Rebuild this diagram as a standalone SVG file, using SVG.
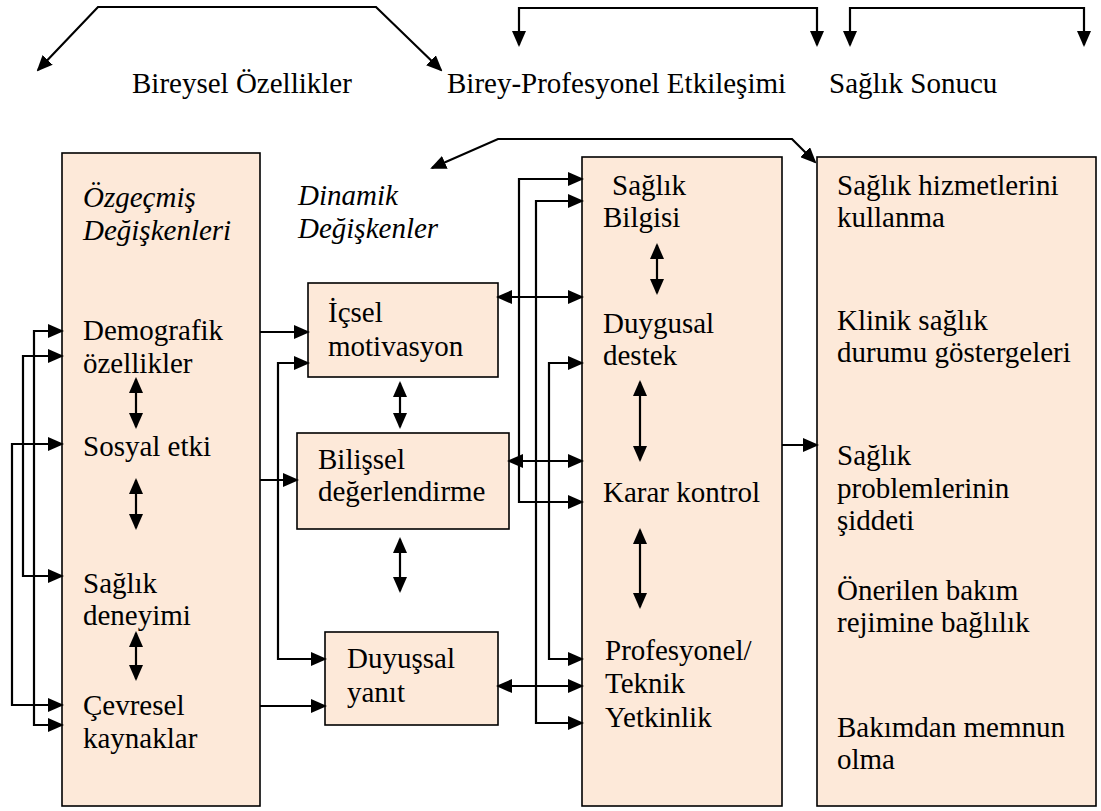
<svg xmlns="http://www.w3.org/2000/svg" width="1101" height="811" viewBox="0 0 1101 811">
<defs>
<marker id="ah" markerUnits="userSpaceOnUse" markerWidth="16" markerHeight="14" refX="14" refY="7" orient="auto-start-reverse" viewBox="0 0 16 14">
<path d="M0,0 L16,7 L0,14 z" fill="#000"/>
</marker>
<style>
.box{fill:#FDE9D9;stroke:#000;stroke-width:1.6}
.t{font-family:"Liberation Serif","Times New Roman",serif;font-size:29px;fill:#000}
.i{font-style:italic}
.c path{fill:none;stroke:#000;stroke-width:2.2}
.e{marker-end:url(#ah)}
.b{marker-start:url(#ah);marker-end:url(#ah)}
</style>
</defs>
<rect width="1101" height="811" fill="#fff"/>

<g id="header-bireysel"><text class="t" x="132" y="93">Bireysel Özellikler</text></g>
<g id="header-etkilesim"><text class="t" x="447" y="93">Birey-Profesyonel Etkileşimi</text></g>
<g id="header-sonuc"><text class="t" x="829" y="93">Sağlık Sonucu</text></g>
<g id="label-dinamik"><text class="t i" x="298" y="205">Dinamik</text><text class="t i" x="298" y="238">Değişkenler</text></g>

<g id="node-ozgecmis">
<rect class="box" x="62" y="153" width="198" height="653"/>
<text class="t i" x="83" y="207">Özgeçmiş</text>
<text class="t i" x="83" y="240">Değişkenleri</text>
<text class="t" x="83" y="340">Demografik</text>
<text class="t" x="83" y="373">özellikler</text>
<text class="t" x="83" y="456">Sosyal etki</text>
<text class="t" x="83" y="593">Sağlık</text>
<text class="t" x="83" y="625">deneyimi</text>
<text class="t" x="83" y="715">Çevresel</text>
<text class="t" x="83" y="748">kaynaklar</text>
</g>

<g id="node-icsel">
<rect class="box" x="308" y="283" width="190" height="94"/>
<text class="t" x="328" y="322">İçsel</text>
<text class="t" x="328" y="356">motivasyon</text>
</g>

<g id="node-bilissel">
<rect class="box" x="297" y="433" width="212" height="96"/>
<text class="t" x="318" y="469">Bilişsel</text>
<text class="t" x="318" y="501">değerlendirme</text>
</g>

<g id="node-duyussal">
<rect class="box" x="325" y="632" width="173" height="93"/>
<text class="t" x="347" y="668">Duyuşsal</text>
<text class="t" x="347" y="702">yanıt</text>
</g>

<g id="node-etkilesim">
<rect class="box" x="582" y="157" width="200" height="649"/>
<text class="t" x="612" y="195">Sağlık</text>
<text class="t" x="603" y="227">Bilgisi</text>
<text class="t" x="603" y="333">Duygusal</text>
<text class="t" x="603" y="365">destek</text>
<text class="t" x="603" y="502">Karar kontrol</text>
<text class="t" x="605" y="660">Profesyonel/</text>
<text class="t" x="605" y="693">Teknik</text>
<text class="t" x="605" y="727">Yetkinlik</text>
</g>

<g id="node-sonuc">
<rect class="box" x="817" y="157" width="279" height="649"/>
<text class="t" x="837" y="195">Sağlık hizmetlerini</text>
<text class="t" x="837" y="227">kullanma</text>
<text class="t" x="837" y="330">Klinik sağlık</text>
<text class="t" x="837" y="362">durumu göstergeleri</text>
<text class="t" x="837" y="465">Sağlık</text>
<text class="t" x="837" y="498">problemlerinin</text>
<text class="t" x="837" y="530">şiddeti</text>
<text class="t" x="837" y="600">Önerilen bakım</text>
<text class="t" x="837" y="632">rejimine bağlılık</text>
<text class="t" x="837" y="737">Bakımdan memnun</text>
<text class="t" x="837" y="769">olma</text>
</g>

<g id="connectors" class="c">
<path class="b" d="M38,70 L98,7 H376 L441,70"/>
<path class="b" d="M519,45 V8 H817 V45"/>
<path class="b" d="M850,45 V8 H1084 V45"/>
<path class="b" d="M432,168 L498,139 H792 L815,162"/>

<path class="b" d="M62,331 H34 V725 H62"/>
<path class="b" d="M62,356 H23 V576 H62"/>
<path class="b" d="M62,444 H12 V705 H62"/>

<path class="b" d="M136,379 V427"/>
<path class="b" d="M136,480 V528"/>
<path class="b" d="M136,633 V679"/>

<path class="e" d="M260,332 H308"/>
<path class="e" d="M260,480 H297"/>
<path class="e" d="M260,706 H325"/>
<path class="b" d="M308,363 H278 V659 H325"/>

<path class="b" d="M400,383 V427"/>
<path class="b" d="M400,539 V591"/>

<path class="b" d="M582,179 H519 V502 H582"/>
<path class="b" d="M582,201 H536 V723 H582"/>
<path class="b" d="M582,363 H549 V659 H582"/>
<path class="b" d="M498,297 H582"/>
<path class="b" d="M509,461 H582"/>
<path class="b" d="M498,686 H582"/>

<path class="b" d="M657,245 V293"/>
<path class="b" d="M640,382 V460"/>
<path class="b" d="M640,530 V607"/>

<path class="e" d="M782,445 H817"/>
</g>
</svg>
